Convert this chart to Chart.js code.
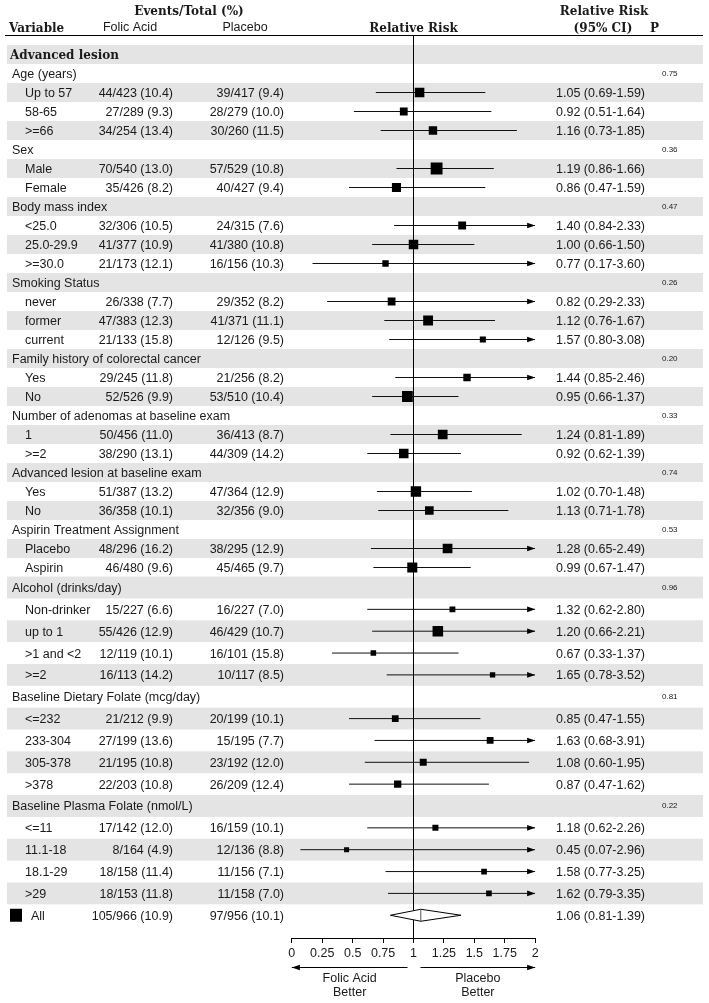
<!DOCTYPE html>
<html>
<head>
<meta charset="utf-8">
<script src="https://cdn.jsdelivr.net/npm/chart.js@4.4.0/dist/chart.umd.min.js"></script>
<style>
  html, body { margin: 0; padding: 0; background: #fff; }
  #wrap { position: relative; width: 709px; height: 1003px; }
</style>
</head>
<body>
<div id="wrap"><canvas id="forest"></canvas></div>
<script>
// groups and their interaction p values
const groupNames = ['Age (years)', 'Sex', 'Body mass index', 'Smoking Status',
  'Family history of colorectal cancer', 'Number of adenomas at baseline exam',
  'Advanced lesion at baseline exam', 'Aspirin Treatment Assignment',
  'Alcohol (drinks/day)', 'Baseline Dietary Folate (mcg/day)', 'Baseline Plasma Folate (nmol/L)'];
const groupP = ['0.75', '0.36', '0.47', '0.26', '0.20', '0.33', '0.74', '0.53', '0.96', '0.81', '0.22'];
const groupCounts = [3, 2, 3, 3, 2, 2, 2, 2, 4, 4, 4];

// subgroups
const subgroupNames = ['Up to 57', '58-65', '>=66', 'Male', 'Female', '<25.0', '25.0-29.9', '>=30.0',
  'never', 'former', 'current', 'Yes', 'No', '1', '>=2', 'Yes', 'No', 'Placebo', 'Aspirin',
  'Non-drinker', 'up to 1', '>1 and <2', '>=2', '<=232', '233-304', '305-378', '>378',
  '<=11', '11.1-18', '18.1-29', '>29'];
const folicEvents = [44, 27, 34, 70, 35, 32, 41, 21, 26, 47, 21, 29, 52, 50, 38, 51, 36, 48, 46,
  15, 55, 12, 16, 21, 27, 21, 22, 17, 8, 18, 18];
const folicTotal = [423, 289, 254, 540, 426, 306, 377, 173, 338, 383, 133, 245, 526, 456, 290, 387, 358, 296, 480,
  227, 426, 119, 113, 212, 199, 195, 203, 142, 164, 158, 153];
const folicPct = ['10.4', '9.3', '13.4', '13.0', '8.2', '10.5', '10.9', '12.1', '7.7', '12.3', '15.8', '11.8', '9.9',
  '11.0', '13.1', '13.2', '10.1', '16.2', '9.6', '6.6', '12.9', '10.1', '14.2', '9.9', '13.6', '10.8', '10.8',
  '12.0', '4.9', '11.4', '11.8'];
const placeboEvents = [39, 28, 30, 57, 40, 24, 41, 16, 29, 41, 12, 21, 53, 36, 44, 47, 32, 38, 45,
  16, 46, 16, 10, 20, 15, 23, 26, 16, 12, 11, 11];
const placeboTotal = [417, 279, 260, 529, 427, 315, 380, 156, 352, 371, 126, 256, 510, 413, 309, 364, 356, 295, 465,
  227, 429, 101, 117, 199, 195, 192, 209, 159, 136, 156, 158];
const placeboPct = ['9.4', '10.0', '11.5', '10.8', '9.4', '7.6', '10.8', '10.3', '8.2', '11.1', '9.5', '8.2', '10.4',
  '8.7', '14.2', '12.9', '9.0', '12.9', '9.7', '7.0', '10.7', '15.8', '8.5', '10.1', '7.7', '12.0', '12.4',
  '10.1', '8.8', '7.1', '7.0'];
const rr = [1.05, 0.92, 1.16, 1.19, 0.86, 1.40, 1.00, 0.77, 0.82, 1.12, 1.57, 1.44, 0.95, 1.24, 0.92, 1.02, 1.13,
  1.28, 0.99, 1.32, 1.20, 0.67, 1.65, 0.85, 1.63, 1.08, 0.87, 1.18, 0.45, 1.58, 1.62];
const rrLow = [0.69, 0.51, 0.73, 0.86, 0.47, 0.84, 0.66, 0.17, 0.29, 0.76, 0.80, 0.85, 0.66, 0.81, 0.62, 0.70, 0.71,
  0.65, 0.67, 0.62, 0.66, 0.33, 0.78, 0.47, 0.68, 0.60, 0.47, 0.62, 0.07, 0.77, 0.79];
const rrHigh = [1.59, 1.64, 1.85, 1.66, 1.59, 2.33, 1.50, 3.60, 2.33, 1.67, 3.08, 2.46, 1.37, 1.89, 1.39, 1.48, 1.78,
  2.49, 1.47, 2.80, 2.21, 1.37, 3.52, 1.55, 3.91, 1.95, 1.62, 2.26, 2.96, 3.25, 3.35];

// overall
const allFolic = [105, 966, '10.9'];
const allPlacebo = [97, 956, '10.1'];
const allRR = [1.06, 0.81, 1.39];

const xTickValues = [0, 0.25, 0.5, 0.75, 1, 1.25, 1.5, 1.75, 2];
const xMax = 2;

const SANS = '"Liberation Sans", Arial, sans-serif';
const SANS_F = '12.5px ' + SANS;
const SERIF_B = 'bold 12px "DejaVu Serif", serif';
const INK = '#1a1a1a';
const BAND = '#e4e4e4';

// row layout: first block 19px per row, from the alcohol group on 21.85px
const rows = [{ kind: 'title', label: 'Advanced lesion' }];
let sk = 0;
groupNames.forEach((g, gi) => {
  rows.push({ kind: 'group', label: g, p: groupP[gi] });
  for (let j = 0; j < groupCounts[gi]; j++) rows.push({ kind: 'sub', k: sk++ });
});
rows.push({ kind: 'all' });

function rowPos(i) { return i < 28 ? 19.5 + 19 * i : 552.5 + 21.85 * (i - 28); }
function rowHalf(i) { return i < 28 ? 9.5 : 10.925; }

const subRow = [];
rows.forEach((r, i) => { if (r.kind === 'sub') subRow[r.k] = i; });
const allRow = rows.length - 1;

const datasets = [];
datasets.push({
  data: [{ x: 1, y: 0 }, { x: 1, y: 903 }], showLine: true, borderColor: '#000',
  borderWidth: 1, pointRadius: 0, order: 3
});
rr.forEach((v, k) => {
  datasets.push({
    data: [{ x: rrLow[k], y: rowPos(subRow[k]) }, { x: Math.min(rrHigh[k], xMax), y: rowPos(subRow[k]) }],
    showLine: true, borderColor: '#111', borderWidth: 1, pointRadius: 0, order: 2
  });
});
datasets.push({
  data: rr.map((v, k) => ({ x: v, y: rowPos(subRow[k]) })),
  showLine: false, pointStyle: 'rect', backgroundColor: '#000', borderWidth: 0,
  pointRadius: c => Math.max(5, 1.05 * Math.sqrt(folicEvents[c.dataIndex] + placeboEvents[c.dataIndex])) / Math.SQRT2,
  order: 1
});

function txt(ctx, s, x, y, align, font, color) {
  ctx.font = font;
  ctx.textAlign = align;
  ctx.textBaseline = 'middle';
  ctx.fillStyle = color || INK;
  ctx.fillText(s, x, y);
}

function arrowHead(ctx, tipX, y, dir) {
  ctx.beginPath();
  ctx.moveTo(tipX, y);
  ctx.lineTo(tipX - dir * 8, y - 2.8);
  ctx.lineTo(tipX - dir * 8, y + 2.8);
  ctx.closePath();
  ctx.fill();
}

const forestDecor = {
  id: 'forestDecor',
  beforeDatasetsDraw(chart) {
    const ctx = chart.ctx, ys = chart.scales.y;
    ctx.save();
    ctx.fillStyle = BAND;
    rows.forEach((r, i) => {
      if (i % 2 !== 0) return;
      const t = ys.getPixelForValue(rowPos(i) - rowHalf(i));
      const b = ys.getPixelForValue(rowPos(i) + rowHalf(i));
      ctx.fillRect(7, t, 696, b - t);
    });
    ctx.strokeStyle = '#000';
    ctx.lineWidth = 1;
    ctx.beginPath();
    ctx.moveTo(5, chart.chartArea.top + 0.5);
    ctx.lineTo(703, chart.chartArea.top + 0.5);
    ctx.stroke();
    ctx.restore();
  },
  afterDatasetsDraw(chart) {
    const ctx = chart.ctx, xs = chart.scales.x, ys = chart.scales.y;
    const X = v => xs.getPixelForValue(v), Y = i => ys.getPixelForValue(rowPos(i));
    ctx.save();
    ctx.fillStyle = '#000';
    // clipped CI arrows
    rrHigh.forEach((h, k) => { if (h > xMax) arrowHead(ctx, X(xMax), Y(subRow[k]), 1); });
    // overall diamond
    const yA = Y(allRow);
    ctx.beginPath();
    ctx.moveTo(X(allRR[1]), yA);
    ctx.lineTo(X(allRR[0]), yA - 6);
    ctx.lineTo(X(allRR[2]), yA);
    ctx.lineTo(X(allRR[0]), yA + 6);
    ctx.closePath();
    ctx.fillStyle = '#fff';
    ctx.fill();
    ctx.strokeStyle = '#000';
    ctx.lineWidth = 1;
    ctx.stroke();
    ctx.beginPath();
    ctx.moveTo(X(allRR[0]), yA - 6);
    ctx.lineTo(X(allRR[0]), yA + 6);
    ctx.strokeStyle = '#555';
    ctx.stroke();

    // header
    txt(ctx, 'Events/Total (%)', 189, 12, 'center', SERIF_B);
    txt(ctx, 'Variable', 9, 29, 'left', SERIF_B);
    txt(ctx, 'Folic Acid', 130, 28, 'center', SANS_F);
    txt(ctx, 'Placebo', 245, 28, 'center', SANS_F);
    txt(ctx, 'Relative Risk', X(1), 29, 'center', SERIF_B);
    txt(ctx, 'Relative Risk', 604, 12, 'center', SERIF_B);
    txt(ctx, '(95% CI)', 603, 29, 'center', SERIF_B);
    txt(ctx, 'P', 650, 29, 'left', SERIF_B);

    // rows
    rows.forEach((r, i) => {
      const y = Y(i);
      if (r.kind === 'title') {
        txt(ctx, r.label, 10, y + 1, 'left', SERIF_B);
      } else if (r.kind === 'group') {
        txt(ctx, r.label, 12, y + 1, 'left', SANS_F);
        txt(ctx, r.p, 662, y, 'left', '8px ' + SANS);
      } else if (r.kind === 'sub') {
        const k = r.k;
        txt(ctx, subgroupNames[k], 25, y + 1, 'left', SANS_F);
        txt(ctx, folicEvents[k] + '/' + folicTotal[k] + ' (' + folicPct[k] + ')', 173, y + 1, 'right', SANS_F);
        txt(ctx, placeboEvents[k] + '/' + placeboTotal[k] + ' (' + placeboPct[k] + ')', 284, y + 1, 'right', SANS_F);
        txt(ctx, rr[k].toFixed(2) + ' (' + rrLow[k].toFixed(2) + '-' + rrHigh[k].toFixed(2) + ')', 645, y + 1, 'right', SANS_F);
      } else {
        ctx.fillStyle = '#000';
        ctx.fillRect(10, y - 6.5, 12, 13);
        txt(ctx, 'All', 31, y + 1, 'left', SANS_F);
        txt(ctx, allFolic[0] + '/' + allFolic[1] + ' (' + allFolic[2] + ')', 173, y + 1, 'right', SANS_F);
        txt(ctx, allPlacebo[0] + '/' + allPlacebo[1] + ' (' + allPlacebo[2] + ')', 284, y + 1, 'right', SANS_F);
        txt(ctx, allRR[0].toFixed(2) + ' (' + allRR[1].toFixed(2) + '-' + allRR[2].toFixed(2) + ')', 645, y + 1, 'right', SANS_F);
      }
    });

    // favours arrows under the axis
    const ay = 967.5;
    ctx.strokeStyle = '#000';
    ctx.fillStyle = '#000';
    ctx.lineWidth = 1;
    ctx.beginPath();
    ctx.moveTo(X(0), ay); ctx.lineTo(X(1) - 6, ay);
    ctx.moveTo(X(1) + 7, ay); ctx.lineTo(X(xMax), ay);
    ctx.stroke();
    arrowHead(ctx, X(0), ay, -1);
    arrowHead(ctx, X(xMax), ay, 1);
    const lc = (X(0) + X(1) - 6) / 2, rc = (X(1) + 7 + X(xMax)) / 2;
    txt(ctx, 'Folic Acid', lc, 979, 'center', SANS_F);
    txt(ctx, 'Better', lc, 993, 'center', SANS_F);
    txt(ctx, 'Placebo', rc, 979, 'center', SANS_F);
    txt(ctx, 'Better', rc, 993, 'center', SANS_F);
    ctx.restore();
  }
};

new Chart(document.getElementById('forest'), {
  type: 'scatter',
  data: { datasets },
  options: {
    responsive: true,
    maintainAspectRatio: false,
    animation: false,
    layout: { padding: { left: 291.85, right: 173.85, top: 35, bottom: 0 } },
    plugins: { legend: { display: false }, tooltip: { enabled: false } },
    scales: {
      x: {
        type: 'linear', min: 0, max: xMax,
        afterBuildTicks: s => { s.ticks = xTickValues.map(v => ({ value: v })); },
        afterFit: s => { s.height = 65; },
        ticks: {
          color: INK, font: { family: SANS, size: 12.5 }, padding: 3,
          maxRotation: 0, autoSkip: false, callback: v => String(v)
        },
        grid: { drawOnChartArea: false, drawTicks: true, tickLength: 5, color: '#000', lineWidth: 1 },
        border: { display: true, color: '#000', width: 1 }
      },
      y: { type: 'linear', display: false, min: 0, max: 903, reverse: true }
    }
  },
  plugins: [forestDecor]
});
</script>
</body>
</html>
